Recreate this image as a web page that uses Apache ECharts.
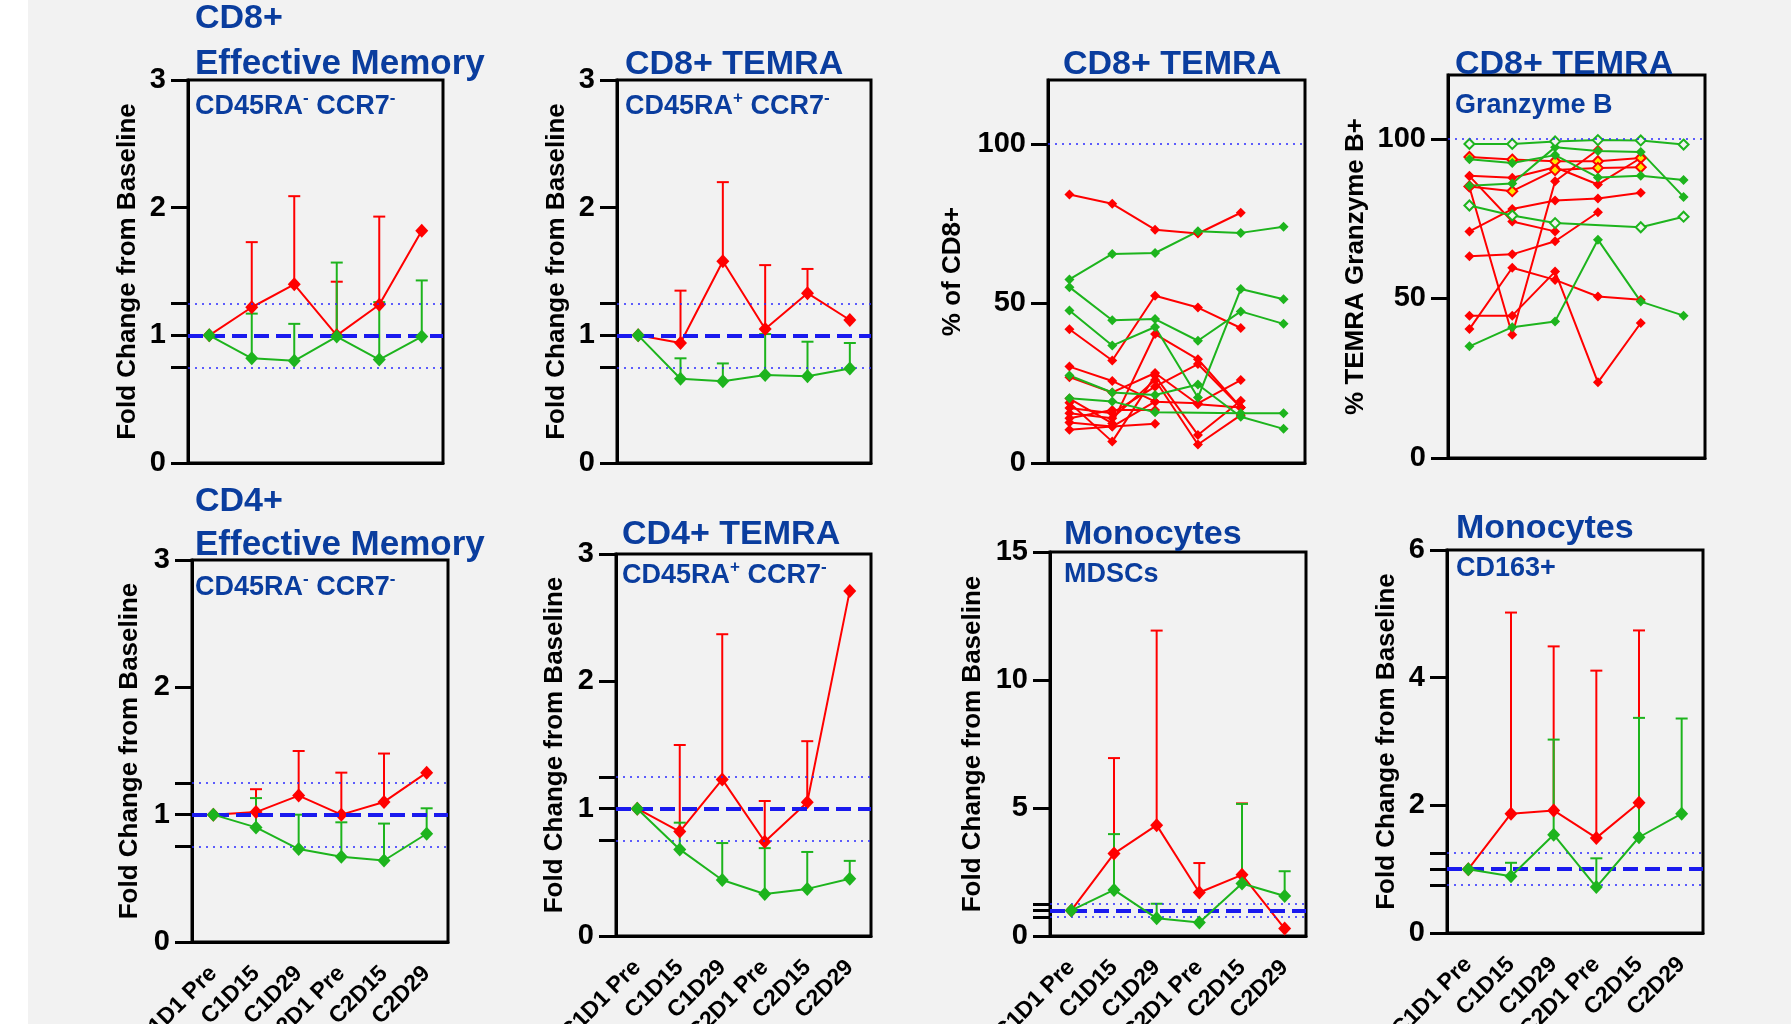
<!DOCTYPE html>
<html>
<head>
<meta charset="utf-8">
<script src="https://cdn.jsdelivr.net/npm/echarts@6/dist/echarts.min.js"></script>
<style>
  html, body { margin: 0; padding: 0; background: #f2f2f2; }
  #chart { width: 1791px; height: 1024px; }
</style>
</head>
<body>
<div id="chart"></div>
<script>
// time points
const categories = ["C1D1 Pre", "C1D15", "C1D29", "C2D1 Pre", "C2D15", "C2D29"];

// CD8+ effective memory (fold change, mean and mean+SD)
const cd8EmRedMean = [1.0, 1.22, 1.40, 1.0, 1.24, 1.82];
const cd8EmRedUpper = [null, 1.73, 2.09, 1.42, 1.93, null];
const cd8EmGreenMean = [1.0, 0.82, 0.80, 0.99, 0.81, 0.99];
const cd8EmGreenUpper = [null, 1.17, 1.09, 1.57, 1.26, 1.43];

// CD8+ TEMRA (fold change)
const cd8TemraRedMean = [1.0, 0.94, 1.58, 1.05, 1.33, 1.12];
const cd8TemraRedUpper = [null, 1.35, 2.20, 1.55, 1.52, null];
const cd8TemraGreenMean = [1.0, 0.66, 0.64, 0.69, 0.68, 0.74];
const cd8TemraGreenUpper = [null, 0.82, 0.78, 1.01, 0.95, 0.94];

// CD8+ TEMRA, % of CD8+ (one line per patient)
const temraPctRed = [
  [84.1, 81.2, 73.1, 71.9, 78.4],
  [41.9, 32.1, 52.4, 48.7, 42.3],
  [30.2, 25.7, 19.2, 18.7, 26.0],
  [26.9, 22.1, 28.2, 18.4, 17.4],
  [20.2, 12.4, 40.4, 32.5, 17.4],
  [18.9, 6.7, 27.3, 8.8, 19.5],
  [17.2, 15.6, 23.9, 31.0, 17.4],
  [15.6, 14.0, 26.0, 5.8, 15.0],
  [14.0, 16.6, 16.6],
  [12.7, 11.4, 19.2],
  [10.4, 11.4, 12.3]
];
const temraPctGreen = [
  [57.5, 65.5, 65.8, 72.6, 72.1, 74.0],
  [55.1, 44.7, 45.1, 38.3, 47.5, 43.6],
  [47.8, 36.8, 42.6, 20.5, 54.5, 51.3],
  [27.4, 22.1, 21.3, 24.6, 14.5, 10.7],
  [20.3, 19.3, 15.9, null, 15.6, 15.6]
];

// CD8+ TEMRA, % Granzyme B+
const gzbRed = [
  [88.4, 87.8, 91.1, 85.7, 94.0],
  [84.9, 38.6, 86.7, 96.6],
  [71.0, 78.0, 80.7, 81.3, 83.1],
  [88.3, 74.1, 71.0],
  [63.2, 63.8, 67.9, 77.0],
  [40.4, 59.6, 55.8, 50.6, 49.6],
  [44.6, 44.6, 58.4, 23.7, 42.3]
];
const gzbRedYellow = [
  [94.3, 93.5, 93.0, 93.0, 94.0],
  [85.1, 83.6, 90.2, 90.9, 91.1]
];
const gzbGreen = [
  [93.6, 92.4, 94.9, 87.9, 88.4, 87.1],
  [85.3, 86.0, 97.4, 96.2, 95.9, 81.8],
  [35.0, 41.0, 42.8, 68.4, 49.0, 44.6]
];
const gzbGreenOpen = [
  [98.4, 98.4, 99.2, 99.6, 99.5, 98.2],
  [79.1, 76.0, 73.6, null, 72.3, 75.6]
];

// CD4+ effective memory
const cd4EmRedMean = [1.0, 1.02, 1.15, 1.0, 1.10, 1.33];
const cd4EmRedUpper = [null, 1.20, 1.50, 1.33, 1.48, null];
const cd4EmGreenMean = [1.0, 0.90, 0.73, 0.67, 0.64, 0.85];
const cd4EmGreenUpper = [null, 1.13, 1.0, 0.94, 0.93, 1.05];

// CD4+ TEMRA
const cd4TemraRedMean = [1.0, 0.82, 1.23, 0.74, 1.05, 2.71];
const cd4TemraRedUpper = [null, 1.50, 2.37, 1.06, 1.53, null];
const cd4TemraGreenMean = [1.0, 0.68, 0.44, 0.33, 0.37, 0.45];
const cd4TemraGreenUpper = [null, 0.89, 0.73, 0.69, 0.66, 0.59];

// Monocytes, MDSCs
const mdscRedMean = [1.0, 3.22, 4.33, 1.70, 2.39, 0.29];
const mdscRedUpper = [null, 6.95, 11.93, 2.85, 5.18, null];
const mdscGreenMean = [1.0, 1.80, 0.69, 0.53, 2.05, 1.56];
const mdscGreenUpper = [null, 3.98, 1.26, null, 5.16, 2.53];

// Monocytes, CD163+
const cd163RedMean = [1.0, 1.87, 1.92, 1.49, 2.04, null];
const cd163RedUpper = [null, 5.02, 4.49, 4.11, 4.74, null];
const cd163GreenMean = [1.0, 0.89, 1.54, 0.72, 1.50, 1.87];
const cd163GreenUpper = [null, 1.10, 3.03, 1.17, 3.37, 3.36];

const RED = "#ff0000";
const GREEN = "#1db41d";
const BLUE_T = "#0a3d9e";
const FONT = '"Liberation Sans", Arial, "DejaVu Sans", sans-serif';

// panel frames: left, top, width, height
const frames = [
  [188, 80, 255, 383],
  [617, 80, 254, 383],
  [1048, 80, 257, 383],
  [1448, 75, 257, 383],
  [192, 560, 256, 382],
  [616, 554, 255, 382],
  [1050, 552, 256, 384],
  [1447, 550, 256, 383]
];

const yConf = [
  { max: 3, ticks: [0, 0.75, 1, 1.25, 2, 3], labels: [0, 1, 2, 3], name: "Fold Change from Baseline", gap: 47 },
  { max: 3, ticks: [0, 0.75, 1, 1.25, 2, 3], labels: [0, 1, 2, 3], name: "Fold Change from Baseline", gap: 47 },
  { max: 120, ticks: [0, 50, 100], labels: [0, 50, 100], name: "% of CD8+", gap: 82 },
  { max: 120, ticks: [0, 50, 100], labels: [0, 50, 100], name: "% TEMRA Granzyme B+", gap: 79 },
  { max: 3, ticks: [0, 0.75, 1, 1.25, 2, 3], labels: [0, 1, 2, 3], name: "Fold Change from Baseline", gap: 49 },
  { max: 3, ticks: [0, 0.75, 1, 1.25, 2, 3], labels: [0, 1, 2, 3], name: "Fold Change from Baseline", gap: 48 },
  { max: 15, ticks: [0, 0.75, 1, 1.25, 5, 10, 15], labels: [0, 5, 10, 15], name: "Fold Change from Baseline", gap: 64 },
  { max: 6, ticks: [0, 0.75, 1, 1.25, 2, 4, 6], labels: [0, 2, 4, 6], name: "Fold Change from Baseline", gap: 47 }
];

const grids = frames.map(f => ({
  left: f[0], top: f[1], width: f[2], height: f[3],
  outerBoundsMode: "none",
  show: true, borderColor: "#000", borderWidth: 3, backgroundColor: "transparent"
}));

const xAxes = frames.map((f, i) => ({
  type: "category",
  gridIndex: i,
  data: categories,
  boundaryGap: true,
  axisLine: { lineStyle: { color: "#000", width: 3 } },
  axisTick: { alignWithLabel: true, interval: 0, length: 15, lineStyle: { color: "#000", width: 3 } },
  axisLabel: {
    show: i >= 4, interval: 0, rotate: 45, margin: 28,
    fontSize: 23, fontWeight: "bold", color: "#000", fontFamily: FONT
  },
  splitLine: { show: false }
}));

const yAxes = yConf.map((c, i) => ({
  type: "value",
  gridIndex: i,
  min: 0,
  max: c.max,
  name: c.name,
  nameLocation: "middle",
  nameGap: c.gap,
  nameTextStyle: { fontSize: 26, fontWeight: "bold", color: "#000", fontFamily: FONT },
  axisLine: { show: true, lineStyle: { color: "#000", width: 3 } },
  axisTick: { show: true, length: 17, customValues: c.ticks, lineStyle: { color: "#000", width: 3 } },
  axisLabel: { customValues: c.labels, margin: 22, fontSize: 29, fontWeight: "bold", color: "#000", fontFamily: FONT },
  splitLine: { show: false }
}));

function refLines(i, values) {
  return {
    type: "line", xAxisIndex: i, yAxisIndex: i, data: [], z: 1, silent: true,
    markLine: {
      silent: true, symbol: ["none", "none"], label: { show: false }, animation: false,
      data: values.map(v => ({
        yAxis: v.y,
        lineStyle: v.dash
          ? { color: "#1a1aee", width: 4, type: [15, 7] }
          : { color: "#2b2bff", width: 1.5, type: [2, 5] }
      }))
    }
  };
}

function errorBars(i, mean, upper, color) {
  const data = [];
  upper.forEach((u, k) => { if (u != null) data.push([k, mean[k], u]); });
  return {
    type: "custom", xAxisIndex: i, yAxisIndex: i, z: 3, silent: true,
    data: data,
    encode: { x: 0, y: [1, 2] },
    renderItem: function (params, api) {
      const base = api.coord([api.value(0), api.value(1)]);
      const top = api.coord([api.value(0), api.value(2)]);
      return {
        type: "group",
        children: [
          { type: "line", shape: { x1: base[0], y1: base[1], x2: top[0], y2: top[1] }, style: { stroke: color, lineWidth: 2 } },
          { type: "line", shape: { x1: top[0] - 6, y1: top[1], x2: top[0] + 6, y2: top[1] }, style: { stroke: color, lineWidth: 2 } }
        ]
      };
    }
  };
}

function meanLine(i, mean, color, z) {
  return {
    type: "line", xAxisIndex: i, yAxisIndex: i, data: mean, z: z,
    symbol: "diamond", symbolSize: [13, 14], showAllSymbol: true,
    lineStyle: { color: color, width: 2 },
    itemStyle: { color: color }
  };
}

function meanPanel(i, rm, ru, gm, gu) {
  return [
    refLines(i, [{ y: 1, dash: true }, { y: 0.75 }, { y: 1.25 }]),
    meanLine(i, rm, RED, 4),
    errorBars(i, rm, ru, RED),
    meanLine(i, gm, GREEN, 5),
    errorBars(i, gm, gu, GREEN)
  ];
}

function patientLines(i, rows, color, fill) {
  return rows.map(r => ({
    type: "line", xAxisIndex: i, yAxisIndex: i, data: r, connectNulls: true,
    symbol: "diamond", symbolSize: 10, showAllSymbol: true, z: 4,
    lineStyle: { color: color, width: 2 },
    itemStyle: fill ? { color: fill, borderColor: color, borderWidth: 2 } : { color: color }
  }));
}

const series = [].concat(
  meanPanel(0, cd8EmRedMean, cd8EmRedUpper, cd8EmGreenMean, cd8EmGreenUpper),
  meanPanel(1, cd8TemraRedMean, cd8TemraRedUpper, cd8TemraGreenMean, cd8TemraGreenUpper),
  [refLines(2, [{ y: 100 }])],
  patientLines(2, temraPctRed, RED),
  patientLines(2, temraPctGreen, GREEN),
  [refLines(3, [{ y: 100 }])],
  patientLines(3, gzbRed, RED),
  patientLines(3, gzbRedYellow, RED, "#ffe600"),
  patientLines(3, gzbGreen, GREEN),
  patientLines(3, gzbGreenOpen, GREEN, "#f2f2f2"),
  meanPanel(4, cd4EmRedMean, cd4EmRedUpper, cd4EmGreenMean, cd4EmGreenUpper),
  meanPanel(5, cd4TemraRedMean, cd4TemraRedUpper, cd4TemraGreenMean, cd4TemraGreenUpper),
  meanPanel(6, mdscRedMean, mdscRedUpper, mdscGreenMean, mdscGreenUpper),
  meanPanel(7, cd163RedMean, cd163RedUpper, cd163GreenMean, cd163GreenUpper)
);

// panel headings: text (rich), x, middle y, size
const headings = [
  ["CD8+", 195, 19, 34],
  ["Effective Memory", 195, 64, 35],
  ["{b|CD45RA}{s|-} {b|CCR7}{s|-}", 195, 105, 27],
  ["CD8+ TEMRA", 625, 65, 34],
  ["{b|CD45RA}{s|+} {b|CCR7}{s|-}", 625, 105, 27],
  ["CD8+ TEMRA", 1063, 65, 34],
  ["CD8+ TEMRA", 1455, 65, 34],
  ["Granzyme B", 1455, 106, 27],
  ["CD4+", 195, 502, 34],
  ["Effective Memory", 195, 545, 35],
  ["{b|CD45RA}{s|-} {b|CCR7}{s|-}", 195, 586, 27],
  ["CD4+ TEMRA", 622, 535, 34],
  ["{b|CD45RA}{s|+} {b|CCR7}{s|-}", 622, 574, 27],
  ["Monocytes", 1064, 535, 34],
  ["MDSCs", 1064, 575, 27],
  ["Monocytes", 1456, 529, 34],
  ["CD163+", 1456, 569, 27]
];

const graphic = [
  { type: "rect", shape: { x: 0, y: 0, width: 28, height: 1024 }, style: { fill: "#ffffff" }, z: 0, silent: true }
].concat(headings.map(h => ({
  type: "text", x: h[1], y: h[2], z: 100, silent: true,
  style: {
    text: h[0], fill: BLUE_T, font: "bold " + h[3] + "px " + FONT,
    textVerticalAlign: "middle", verticalAlign: "middle",
    rich: {
      b: { fontSize: h[3], fontWeight: "bold", fontFamily: FONT, fill: BLUE_T, color: BLUE_T, lineHeight: 30, verticalAlign: "bottom" },
      s: { fontSize: 17, fontWeight: "bold", fontFamily: FONT, fill: BLUE_T, color: BLUE_T, lineHeight: 30, verticalAlign: "top" }
    }
  }
})));

const option = {
  backgroundColor: "#f2f2f2",
  animation: false,
  grid: grids,
  xAxis: xAxes,
  yAxis: yAxes,
  series: series,
  graphic: graphic
};

const chart = echarts.init(document.getElementById("chart"), null, { renderer: "canvas" });
chart.setOption(option);
</script>
</body>
</html>
